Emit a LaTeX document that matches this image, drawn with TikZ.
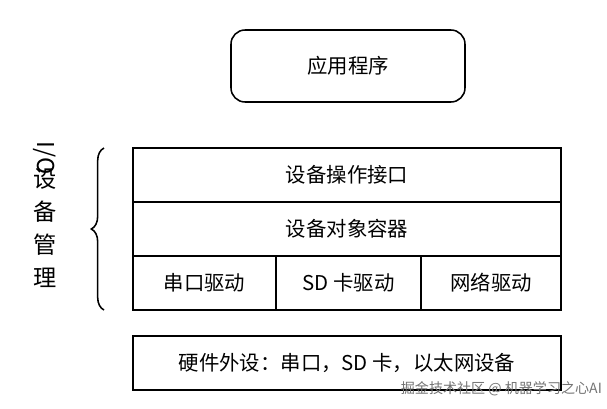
\documentclass[tikz,border=0pt]{standalone}
\usepackage{fontspec}
\setmainfont{Noto Sans CJK SC}
\usepackage{tikz}
\usetikzlibrary{positioning, decorations.pathreplacing}

\begin{document}
\begin{tikzpicture}[x=0.025cm,y=-0.025cm,
	layer/.style={draw, line width=1.1pt, inner sep=0pt, font=\fontsize{14.5}{16}\selectfont},
	cell/.style={layer, minimum height=54*0.025cm}]
\useasboundingbox (0,0) rectangle (607,409);
\node[layer, rounded corners=10pt, minimum width=234*0.025cm, minimum height=72*0.025cm] (app) at (348,66) {应用程序};
\node[cell, minimum width=428*0.025cm] (ops) at (347,175) {设备操作接口};
\node[cell, minimum width=428*0.025cm] (box) at (347,229) {设备对象容器};
\node[cell, minimum width=143*0.025cm] (uart) at (204.5,283) {串口驱动};
\node[cell, minimum width=145*0.025cm] (sd) at (348.5,283) {SD 卡驱动};
\node[cell, minimum width=140*0.025cm] (net) at (491,283) {网络驱动};
\node[cell, minimum width=428*0.025cm] (hw) at (347,363) {硬件外设：串口，SD 卡，以太网设备};
% 左侧说明
\coordinate (bl) at (104,310); \coordinate (tl) at (104,148);
\draw[line width=1.1pt, decorate, decoration={brace, amplitude=9pt}] (bl) -- (tl);
\node[rotate=-90, font=\fontsize{16.5}{20}\selectfont, inner sep=0pt] (io) at (45,158) {I/O};
\node[align=center, font=\fontsize{16.5}{23.5}\selectfont, inner sep=0pt] (mgmt) at (45,228) {设\\备\\管\\理};
\node[anchor=south east, inner sep=2pt, text=black!55, font=\fontsize{10}{12}\selectfont] (wm) at (605,399) {掘金技术社区 @ 机器学习之心AI};
\end{tikzpicture}
\end{document}
